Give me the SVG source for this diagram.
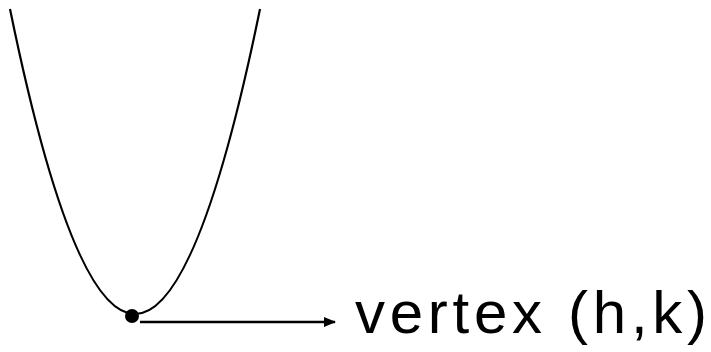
<svg xmlns="http://www.w3.org/2000/svg" width="711" height="352" viewBox="0 0 711 352">
<style>
.curve{fill:none;stroke:#000;stroke-width:2.2}
.conn{fill:none;stroke:#000;stroke-width:2.5}
.lbl{font-family:"Liberation Sans","DejaVu Sans",sans-serif;font-size:60px;fill:#000}
</style>
<defs>
<marker id="arrow" viewBox="0 0 10 10" refX="9" refY="5" markerWidth="5" markerHeight="5" markerUnits="strokeWidth" orient="auto">
<path d="M0,1 L10,5 L0,9 Z" fill="#000"/>
</marker>
</defs>
<rect width="711" height="352" fill="#fff"/>
<g id="parabola">
<path class="curve" d="M10,9 Q135,619 260,9"/>
</g>
<g id="vertex">
<circle cx="132" cy="316" r="7" fill="#000"/>
</g>
<g id="connectors">
<path class="conn" d="M140,322 L335,322" marker-end="url(#arrow)"/>
</g>
<g id="label">
<text class="lbl" x="355" y="333" textLength="352" lengthAdjust="spacing">vertex (h,k)</text>
</g>
</svg>
